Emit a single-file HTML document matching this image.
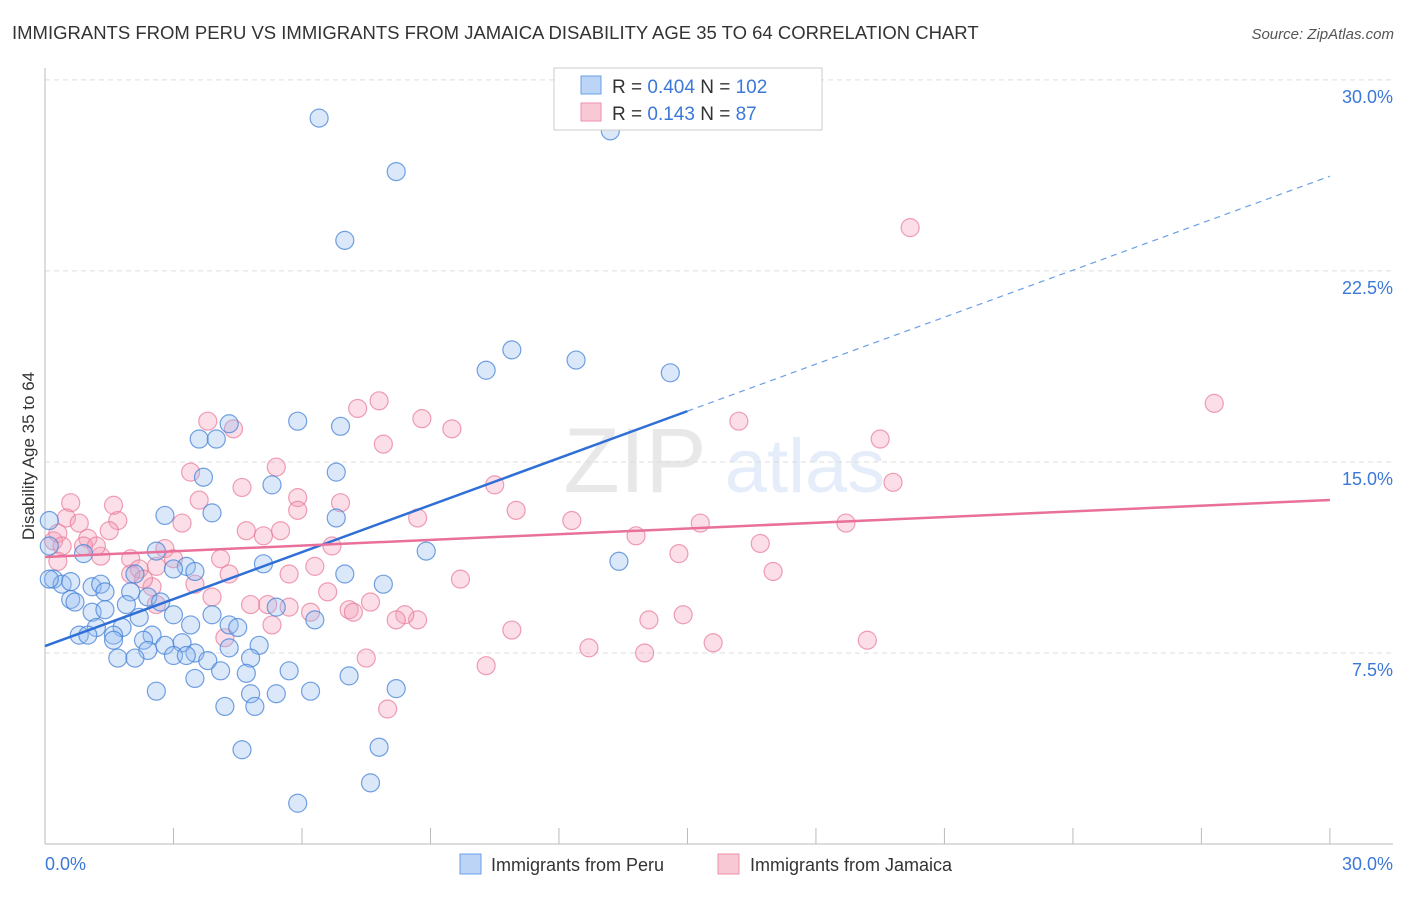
<!DOCTYPE html>
<html><head><meta charset="utf-8"><style>
body{margin:0;background:#fff;font-family:"Liberation Sans",sans-serif;}
svg text{font-family:"Liberation Sans",sans-serif;}
</style></head><body>
<svg id="chart" width="1406" height="892">
<text x="12" y="39" font-size="18.5" fill="#333">IMMIGRANTS FROM PERU VS IMMIGRANTS FROM JAMAICA DISABILITY AGE 35 TO 64 CORRELATION CHART</text>
<text x="1394" y="39" font-size="15" fill="#555" font-style="italic" text-anchor="end">Source: ZipAtlas.com</text>
<g opacity="0.13">
<text x="635" y="492" font-size="92" font-family="Liberation Serif" fill="#555" text-anchor="middle">ZIP</text>
<text x="805" y="492" font-size="76" fill="#3b78d8" text-anchor="middle">atlas</text>
</g>
<g id="grid"></g><g id="axes"></g><g id="pts"></g><g id="lines"></g>
<g>
<rect x="554" y="68" width="268" height="62" fill="#fff" stroke="#ccc"/>
<rect x="581" y="76" width="20" height="18" fill="#bcd4f5" stroke="#6a9fe6"/>
<rect x="581" y="103" width="20" height="18" fill="#f9c8d5" stroke="#ee8fa9"/>
<text x="612" y="93" font-size="19" fill="#333">R = <tspan fill="#3b78d8">0.404</tspan>   N = <tspan fill="#3b78d8">102</tspan></text>
<text x="612" y="120" font-size="19" fill="#333">R =  <tspan fill="#3b78d8">0.143</tspan>   N =  <tspan fill="#3b78d8">87</tspan></text>
</g>
<g>
<rect x="460" y="854" width="21" height="20" fill="#bcd4f5" stroke="#6a9fe6"/>
<text x="491" y="871" font-size="18" fill="#333">Immigrants from Peru</text>
<rect x="718" y="854" width="21" height="20" fill="#f9c8d5" stroke="#ee8fa9"/>
<text x="750" y="871" font-size="18" fill="#333">Immigrants from Jamaica</text>
</g>
<text transform="translate(34,456) rotate(-90)" font-size="17" fill="#333" text-anchor="middle">Disability Age 35 to 64</text>
</svg>
<script>
const peruX=[6.4,8.2,7.0,13.2,10.9,10.3,12.4,14.6,5.9,6.9,4.3,3.6,4.0,3.7,6.8,5.3,3.9,2.8,6.8,2.6,8.9,13.4,5.1,3.3,3.5,3.0,7.0,7.9,2.1,0.9,0.1,0.2,0.4,0.6,1.1,1.3,0.6,0.7,1.4,2.0,2.4,2.7,1.9,1.1,1.4,5.4,3.9,6.3,3.0,2.2,3.4,4.3,4.5,1.2,1.8,0.8,1.0,1.6,2.5,2.3,1.6,3.2,4.3,5.0,2.8,3.5,3.0,3.3,3.8,2.4,1.7,2.1,4.8,4.1,4.7,5.7,7.1,2.6,3.5,4.8,5.4,6.2,8.2,4.2,4.9,4.6,7.8,5.9,7.6,0.1,0.1];
const peruY=[28.5,26.4,23.7,28.0,19.4,18.6,19.0,18.5,16.6,16.4,16.5,15.9,15.9,14.4,14.6,14.1,13.0,12.9,12.8,11.5,11.5,11.1,11.0,10.9,10.7,10.8,10.6,10.2,10.6,11.4,12.7,10.4,10.2,10.3,10.1,10.2,9.6,9.5,9.9,9.9,9.7,9.5,9.4,9.1,9.2,9.3,9.0,8.8,9.0,8.9,8.6,8.6,8.5,8.5,8.5,8.2,8.2,8.2,8.2,8.0,8.0,7.9,7.7,7.8,7.8,7.5,7.4,7.4,7.2,7.6,7.3,7.3,7.3,6.8,6.7,6.8,6.6,6.0,6.5,5.9,5.9,6.0,6.1,5.4,5.4,3.7,3.8,1.6,2.4,10.4,11.7];
const jamX=[20.2,27.3,16.2,19.5,19.8,18.7,15.3,16.7,14.8,17.0,14.9,14.1,15.6,14.0,12.7,19.2,12.3,13.8,11.0,10.5,8.7,9.7,8.7,8.4,10.3,10.9,7.8,7.3,8.8,9.5,7.9,4.4,3.8,5.4,4.6,3.4,3.6,5.9,6.9,5.9,3.2,1.7,1.6,0.6,0.5,0.8,4.7,5.1,5.5,6.7,6.3,5.7,4.1,4.3,2.8,3.0,2.0,2.6,2.2,2.0,1.3,1.0,0.9,1.2,0.2,0.3,0.4,0.3,1.5,2.5,2.6,3.5,3.9,4.8,5.7,5.2,6.2,6.6,7.1,7.2,7.6,8.2,4.2,5.3,7.5,8.0,2.3];
const jamY=[24.2,17.3,16.6,15.9,14.2,12.6,12.6,11.8,11.4,10.7,9.0,8.8,7.9,7.5,7.7,8.0,12.7,12.1,13.1,14.1,12.8,10.4,8.8,9.0,7.0,8.4,17.4,17.1,16.7,16.3,15.7,16.3,16.6,14.8,14.0,14.6,13.5,13.6,13.4,13.1,12.6,12.7,13.3,13.4,12.8,12.6,12.3,12.1,12.3,11.7,10.9,10.6,11.2,10.6,11.6,11.2,11.2,10.9,10.8,10.6,11.3,12.0,11.7,11.7,11.9,12.2,11.7,11.1,12.3,10.1,9.4,10.2,9.7,9.4,9.3,9.4,9.1,9.9,9.2,9.1,9.5,8.8,8.1,8.6,7.3,5.3,10.4];
const peruLine=[7.77,0.615];   // intercept, slope
const jamLine=[11.27,0.0745];
const yTicks=[7.5,15,22.5,30];
const yTickLabels=["7.5%","15.0%","22.5%","30.0%"];
const xTickLabels=["0.0%","30.0%"];

const NS="http://www.w3.org/2000/svg";
const X=v=>45+v*42.83, Y=v=>844-v*25.47;
function mk(tag,attrs,parent){const e=document.createElementNS(NS,tag);for(const k in attrs)e.setAttribute(k,attrs[k]);document.getElementById(parent).appendChild(e);return e;}
yTicks.forEach((t,i)=>{
  const g=mk('line',{x1:45,x2:1393,y1:Y(t),y2:Y(t),stroke:'#ddd','stroke-dasharray':'5,4'},'grid');
  
  
  const l=mk('text',{x:1393,y:Y(t)+23,'font-size':18,fill:'#3b78d8','text-anchor':'end'},'grid');
  l.textContent=yTickLabels[i];
  
  
});
let a=mk('line',{x1:45,x2:45,y1:68,y2:844,stroke:'#bbb'},'axes');


a=mk('line',{x1:45,x2:1393,y1:844,y2:844,stroke:'#bbb'},'axes');


for(let i=0;i<=10;i++){const t=mk('line',{x1:X(i*3),x2:X(i*3),y1:828,y2:844,stroke:'#bbb'},'axes');
  
  }
let xl=mk('text',{x:45,y:870,'font-size':18,fill:'#3b78d8'},'axes');xl.textContent=xTickLabels[0];


xl=mk('text',{x:1393,y:870,'font-size':18,fill:'#3b78d8','text-anchor':'end'},'axes');xl.textContent=xTickLabels[1];


jamX.forEach((x,i)=>{const c=mk('circle',{cx:X(x),cy:Y(jamY[i]),r:9,fill:'rgba(244,160,185,0.35)',stroke:'rgba(232,120,150,0.7)','stroke-width':1.2},'pts');
  
  });
peruX.forEach((x,i)=>{const c=mk('circle',{cx:X(x),cy:Y(peruY[i]),r:9,fill:'rgba(150,190,240,0.35)',stroke:'rgba(70,130,215,0.75)','stroke-width':1.2},'pts');
  
  });
const pl=v=>peruLine[0]+peruLine[1]*v, jl=v=>jamLine[0]+jamLine[1]*v;
let ln=mk('line',{x1:X(0),y1:Y(pl(0)),x2:X(15),y2:Y(pl(15)),stroke:'#2f6fd6','stroke-width':2.5},'lines');


ln=mk('line',{x1:X(15),y1:Y(pl(15)),x2:X(30),y2:Y(pl(30)),stroke:'#6a9fe6','stroke-width':1.2,'stroke-dasharray':'6,5'},'lines');


ln=mk('line',{x1:X(0),y1:Y(jl(0)),x2:X(30),y2:Y(jl(30)),stroke:'#e8709a','stroke-width':2.5},'lines');


</script>
</body></html>
